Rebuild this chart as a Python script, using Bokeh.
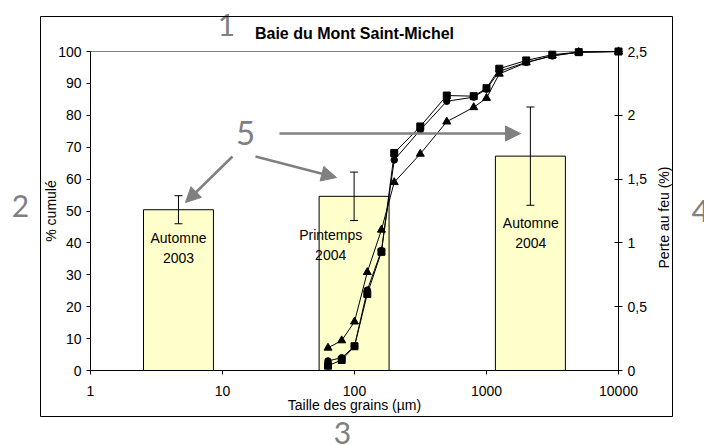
import math
from bokeh.plotting import figure
from bokeh.models import (Range1d, LinearAxis, FixedTicker, CustomJSTickFormatter, ColumnDataSource,
                          Whisker, TeeHead, Arrow, NormalHead, Label, BoxAnnotation)
from bokeh.embed import file_html
from bokeh.resources import INLINE
from bokeh.core.properties import value

# ---------------- data ----------------
title_text = "Baie du Mont Saint-Michel"
x_label = "Taille des grains (µm)"
y_label = "% cumulé"
y2_label = "Perte au feu (%)"

grain_sizes = [63, 80, 100, 125, 160, 200, 315, 500, 800, 1000, 1250, 2000, 3150, 5000, 10000]
cum_squares = [1.5, 3.3, 7.6, 24.0, 37.2, 68.2, 76.5, 86.2, 86.0, 88.5, 94.6, 97.2, 99.0, 99.8, 100]
cum_circles = [3.0, 4.0, 7.6, 25.2, 37.6, 66.0, 75.4, 84.4, 85.7, 88.2, 93.8, 96.6, 98.6, 99.8, 100]
cum_triangles = [7.1, 9.4, 15.3, 30.8, 44.1, 59.0, 67.9, 78.0, 82.5, 85.4, 93.0, 96.5, 98.7, 99.8, 100]

campaigns = ["Automne\n2003", "Printemps\n2004", "Automne\n2004"]
campaign_size = [4.64, 99.3, 2150]       # bar centre position on grain-size axis (µm)
loi_mean = [1.26, 1.365, 1.68]           # perte au feu (%)
loi_err = [0.11, 0.19, 0.385]

x_ticks = [1, 10, 100, 1000, 10000]
y_ticks = [0, 10, 20, 30, 40, 50, 60, 70, 80, 90, 100]
y2_ticks = [0, 0.5, 1, 1.5, 2, 2.5]

callouts = ["1", "2", "3", "4", "5"]

# ---------------- layout constants ----------------
W, H = 704, 445
FONT = "Liberation Sans"
GRAY = "#808080"
BAR_HALF_DECADES = 0.265
label_x = [4.64, 66.0, 2167]
label_y = [38.5, 39.4, 43.0]

# plotting region: x 1..10000 -> px 90..618 ; y 0..100 -> px 370..51
PX_L, PX_R, PY_B, PY_T = 90.0, 618.0, 370.0, 51.0
dec_px = (PX_R - PX_L) / 4.0
y_px = (PY_B - PY_T) / 100.0
x_start = 10 ** ((0 - PX_L) / dec_px)
x_end = 10 ** ((W - PX_L) / dec_px)
y_start = (PY_B - H) / y_px
y_end = PY_B / y_px
k2 = 2.5 / 100.0

p = figure(width=W, height=H, x_axis_type="log",
           x_range=Range1d(x_start, x_end), y_range=Range1d(y_start, y_end),
           output_backend="svg", toolbar_location=None,
           min_border_left=0, min_border_right=0, min_border_top=0, min_border_bottom=0)
p.extra_y_ranges = {"loi": Range1d(y_start * k2, y_end * k2)}
p.outline_line_color = None
p.xgrid.visible = False
p.ygrid.visible = False
p.background_fill_color = "white"
p.border_fill_color = "white"

def style_axis(ax, tin, tout):
    ax.major_tick_in = tin
    ax.major_tick_out = tout
    ax.minor_tick_in = 0
    ax.minor_tick_out = 0
    ax.axis_line_color = "black"
    ax.major_tick_line_color = "black"
    ax.major_label_text_font = FONT
    ax.major_label_text_font_size = "14px"
    ax.major_label_text_color = "black"
    ax.axis_label_text_font = FONT
    ax.axis_label_text_font_size = "14px"
    ax.axis_label_text_font_style = "normal"
    ax.axis_label_text_color = "black"

xa = p.xaxis[0]
xa.ticker = FixedTicker(ticks=x_ticks, minor_ticks=[])
xa.formatter = CustomJSTickFormatter(code="return tick.toFixed(0);")
xa.axis_label = x_label
xa.fixed_location = y_ticks[0]
xa.bounds = (x_ticks[0], x_ticks[-1])
style_axis(xa, 0, 4)
xa.major_label_standoff = 11
xa.axis_label_standoff = -2

ya = p.yaxis[0]
ya.ticker = FixedTicker(ticks=y_ticks, minor_ticks=[])
ya.axis_label = y_label
ya.fixed_location = x_ticks[0]
ya.bounds = (y_ticks[0], y_ticks[-1])
style_axis(ya, 0, 4)
ya.axis_label_standoff = -4

ya2 = LinearAxis(y_range_name="loi", ticker=FixedTicker(ticks=y2_ticks, minor_ticks=[]),
                 formatter=CustomJSTickFormatter(code="return tick.toString().replace('.', ',');"),
                 fixed_location=x_ticks[-1], bounds=(y2_ticks[0], y2_ticks[-1]))
style_axis(ya2, 4, 4)
p.add_layout(ya2, "right")

# gridline at 100 %
p.segment(x0=[x_ticks[0]], x1=[x_ticks[-1]], y0=[y_ticks[-1]], y1=[y_ticks[-1]],
          line_color=GRAY, line_width=1)

# bars (perte au feu) on right axis
f = 10 ** BAR_HALF_DECADES
bars = ColumnDataSource(dict(
    left=[c / f for c in campaign_size], right=[c * f for c in campaign_size],
    top=loi_mean, bottom=[0] * len(loi_mean), centre=campaign_size,
    upper=[m + e for m, e in zip(loi_mean, loi_err)],
    lower=[m - e for m, e in zip(loi_mean, loi_err)]))
p.quad(left="left", right="right", top="top", bottom="bottom", source=bars, y_range_name="loi",
       fill_color="#FFFFCC", line_color="black", line_width=1)
p.add_layout(Whisker(source=bars, base="centre", upper="upper", lower="lower", dimension="height",
                     y_range_name="loi", line_color="black", line_width=1, level="annotation",
                     upper_head=TeeHead(size=8, line_color="black", line_width=1),
                     lower_head=TeeHead(size=8, line_color="black", line_width=1)))

lab = ColumnDataSource(dict(x=label_x, y=label_y, t=campaigns))
p.text(x="x", y="y", text="t", source=lab, text_font=value(FONT), text_font_size="14px",
       text_align="center", text_baseline="middle", text_line_height=1.25, text_color="black")

# cumulative curves
for ys, marker, size in [(cum_triangles, "triangle", 8), (cum_squares, "square", 7), (cum_circles, "circle", 6.5)]:
    src = ColumnDataSource(dict(x=grain_sizes, y=ys))
    p.line("x", "y", source=src, line_color="black", line_width=1)
    p.scatter("x", "y", source=src, marker=marker, size=size, fill_color="black", line_color="black")

def lbl(text, px, py, **kw):
    return Label(x=px, y=H - py, x_units="screen", y_units="screen", text=text,
                 text_align="center", text_baseline="middle", **kw)

# title and right axis label
p.add_layout(lbl(title_text, 354, 33, text_font=FONT, text_font_size="16px",
                 text_font_style="bold", text_color="black"))
p.add_layout(lbl(y2_label, 663, 217, text_font=FONT, text_font_size="14px",
                 text_color="black", angle=math.pi / 2))

# outer frame
p.add_layout(BoxAnnotation(left=40, right=672, bottom=H - 416, top=H - 16,
                           left_units="screen", right_units="screen", top_units="screen", bottom_units="screen",
                           fill_alpha=0, line_color="black", line_alpha=1.0, line_width=1, level="overlay"))

# gray call-out numbers
callout_pos = [(226, 24, "30px"), (20, 205, "30px"), (342, 432, "30px"), (700, 210, "31px"), (245, 132, "33px")]
for t, (cx, cy, fs) in zip(callouts, callout_pos):
    p.add_layout(lbl(t, cx, cy, text_font="Lato", text_font_size=fs, text_color=GRAY))

# gray arrows
for (xs, ys, xe, ye) in [(232, 156, 185, 202), (255, 156, 336, 177), (279, 133, 520, 133)]:
    p.add_layout(Arrow(x_start=xs, y_start=H - ys, x_end=xe, y_end=H - ye,
                       start_units="screen", end_units="screen",
                       line_color=GRAY, line_width=2.5,
                       end=NormalHead(size=15, fill_color=GRAY, line_color=GRAY)))

open("out.html", "w").write(file_html(p, INLINE))
